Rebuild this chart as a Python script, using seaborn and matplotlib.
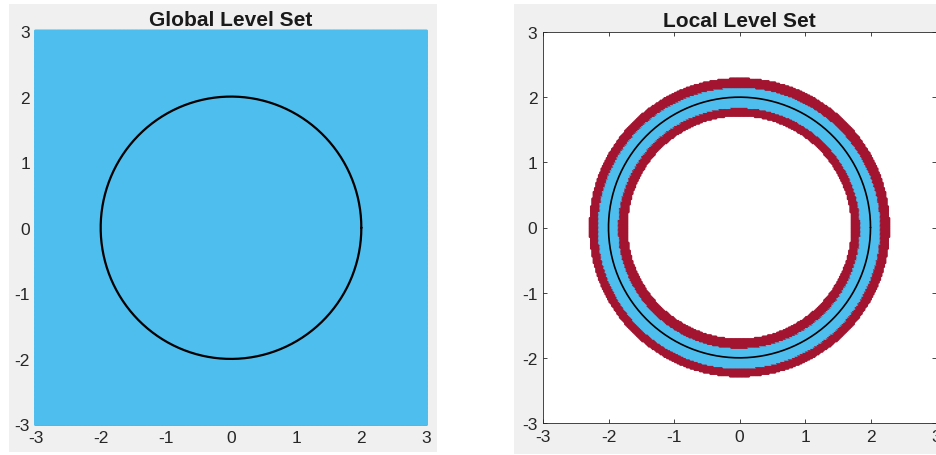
import numpy as np
import pandas as pd
import matplotlib
matplotlib.use("Agg")
import matplotlib.pyplot as plt
from matplotlib.patches import Rectangle
import seaborn as sns

# Level-set parameters
titles = ["Global Level Set", "Local Level Set"]
tick_values = [-3, -2, -1, 0, 1, 2, 3]
domain = [-3.0, 3.0]
grid_step = 0.02
interface_radius = 2.0
inner_band = 0.155   # |phi| below this: active band
outer_band = 0.285   # |phi| below this: buffer band
band_colors = {"active": "#4DBEEE", "buffer": "#A2142F"}

sns.set_theme(style="white")
plt.rcParams["font.family"] = ["Liberation Sans", "DejaVu Sans"]

# Grid nodes and signed distance to the circular interface
g = np.arange(domain[0], domain[1] + grid_step / 2, grid_step)
gx, gy = np.meshgrid(g, g)
phi = np.sqrt(gx**2 + gy**2) - interface_radius
nodes = pd.DataFrame({"x": gx.ravel(), "y": gy.ravel(), "phi": phi.ravel()})
nodes["band"] = np.where(nodes["phi"].abs() <= inner_band, "active",
                         np.where(nodes["phi"].abs() <= outer_band, "buffer", "none"))
local_nodes = nodes[nodes["band"] != "none"]

theta = np.linspace(0, 2 * np.pi, 400)
interface = pd.DataFrame({"x": interface_radius * np.cos(theta),
                          "y": interface_radius * np.sin(theta)})

fig = plt.figure(figsize=(9.37, 4.56), dpi=100)
fig.patch.set_facecolor("white")
W, H = 937, 456
for (x0, y0, x1, y1) in [(9, 5, 437, 453), (514, 5, 937, 455)]:
    fig.patches.append(Rectangle((x0 / W, 1 - y1 / H), (x1 - x0) / W, (y1 - y0) / H,
                                 transform=fig.transFigure, facecolor="#f0f0f0",
                                 edgecolor="none", zorder=-10))

ax1 = fig.add_axes([35.5 / W, 1 - 425.5 / H, 391 / W, 393.5 / H])
ax2 = fig.add_axes([543 / W, 1 - 424 / H, 393 / W, 391 / H])

marker_px = 3.0
marker_s = (marker_px * 72 / 100) ** 2

# Global: every grid node carries the level set
sns.scatterplot(data=nodes, x="x", y="y", ax=ax1, color=band_colors["active"],
                s=marker_s, linewidth=0, edgecolor="none", marker="o", legend=False,
                clip_on=False, zorder=2, rasterized=True)
sns.lineplot(data=interface, x="x", y="y", sort=False, ax=ax1, color="black",
             linewidth=1.6, estimator=None, zorder=3)

# Local: only nodes in the narrow band around the interface
sns.scatterplot(data=local_nodes, x="x", y="y", hue="band", palette=band_colors, ax=ax2,
                s=marker_s, linewidth=0, edgecolor="none", marker="o", legend=False,
                zorder=2, rasterized=True)
sns.lineplot(data=interface, x="x", y="y", sort=False, ax=ax2, color="black",
             linewidth=1.2, estimator=None, zorder=3)

for ax, title in zip([ax1, ax2], titles):
    ax.set_xlim(domain)
    ax.set_ylim(domain)
    ax.set_xticks(tick_values)
    ax.set_yticks(tick_values)
    ax.set_xticklabels([str(v) for v in tick_values])
    ax.set_yticklabels([str(v) for v in tick_values])
    ax.set_xlabel("")
    ax.set_ylabel("")
    ax.set_facecolor("white")
    ax.set_axisbelow(True)
    ax.tick_params(axis="both", direction="in", length=3, width=0.6, color="#262626",
                   labelsize=12.5, labelcolor="#262626", pad=4,
                   top=True, right=True, bottom=True, left=True)
    for sp in ax.spines.values():
        sp.set_visible(True)
        sp.set_color("#262626")
        sp.set_linewidth(0.6)
        sp.set_zorder(0)
    ax.set_title(title, fontsize=15, fontweight="bold", color="#1a1a1a", pad=4)

fig.savefig("out.png", dpi=100, facecolor=fig.get_facecolor())
